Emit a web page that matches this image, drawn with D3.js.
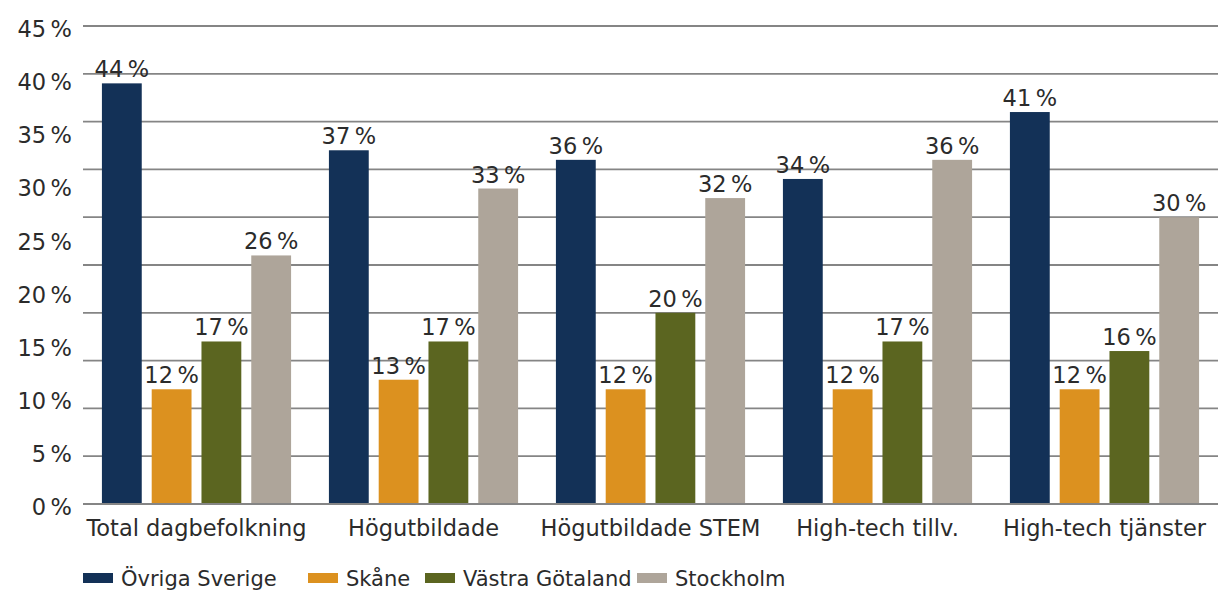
<!DOCTYPE html>
<html><head><meta charset="utf-8">
<script src="https://cdn.jsdelivr.net/npm/d3@7"></script>
<style>body{margin:0;background:#fff}svg{display:block}text{font-family:"DejaVu Sans",Verdana,sans-serif;fill:#2b2b2b}</style>
</head><body>
<script>
const categories = ["Total dagbefolkning","Högutbildade","Högutbildade STEM","High-tech tillv.","High-tech tjänster"];
const seriesNames = ["Övriga Sverige","Skåne","Västra Götaland","Stockholm"];
const colors = ["#133157","#dc911f","#5b6520","#aea59a"];
const ovriga = [44,37,36,34,41];
const skane = [12,13,12,12,12];
const vastra = [17,17,20,17,16];
const stockholm = [26,33,32,36,30];
const tickLabels = [0,5,10,15,20,25,30,35,40,45];
const gridValues = [0,5,10,15,20,25,30,35,40,45,50];

const values = [ovriga, skane, vastra, stockholm];
const W = 1219, H = 590;
const FS = 22.5;
const svg = d3.select("body").append("svg").attr("width",W).attr("height",H);

const x0 = d3.scaleBand().domain(categories).range([83,1218]).padding(0);
const x1 = d3.scaleBand().domain(seriesNames).range([0,x0.bandwidth()]).paddingInner(0.2).paddingOuter(0.38);
const y = d3.scaleLinear().domain([0,50]).range([504,26]);
const yLab = d3.scaleLinear().domain([0,45]).range([507,29]);

// gridlines
svg.append("g").selectAll("line").data(gridValues).join("line")
  .attr("x1",83).attr("x2",1218)
  .attr("y1",d=>y(d)).attr("y2",d=>y(d))
  .attr("stroke","#858585").attr("stroke-width",1.8);

// y tick labels
svg.append("g").selectAll("text").data(tickLabels).join("text")
  .attr("x",72).attr("y",d=>yLab(d)).attr("dy","0.36em")
  .attr("text-anchor","end").attr("font-size",FS)
  .text(d=>d+"\u2009%");

// bars
const groups = svg.append("g").selectAll("g").data(categories).join("g")
  .attr("transform",d=>`translate(${x0(d)},0)`);
groups.each(function(cat,ci){
  const g = d3.select(this);
  const rows = seriesNames.map((s,si)=>({s,si,v:values[si][ci]}));
  g.selectAll("rect").data(rows).join("rect")
    .attr("x",d=>x1(d.s)).attr("width",x1.bandwidth())
    .attr("y",d=>y(d.v)).attr("height",d=>y(0)-y(d.v))
    .attr("fill",d=>colors[d.si]);
  g.selectAll("text").data(rows).join("text")
    .attr("x",d=>x1(d.s)+x1.bandwidth()/2).attr("y",d=>y(d.v)-6)
    .attr("text-anchor","middle").attr("font-size",FS)
    .text(d=>d.v+"\u2009%");
});

// baseline axis line
svg.append("line").attr("x1",83).attr("x2",1218).attr("y1",y(0)).attr("y2",y(0))
  .attr("stroke","#858585").attr("stroke-width",1.8);

// category labels
svg.append("g").selectAll("text").data(categories).join("text")
  .attr("x",d=>x0(d)+x0.bandwidth()/2).attr("y",536)
  .attr("text-anchor","middle").attr("font-size",FS).text(d=>d);

// legend
const legendX = [83,308,425,637];
const lg = svg.append("g").selectAll("g").data(seriesNames).join("g")
  .attr("transform",(d,i)=>`translate(${legendX[i]},0)`);
lg.append("rect").attr("x",0).attr("y",573).attr("width",30).attr("height",10).attr("fill",(d,i)=>colors[i]);
lg.append("text").attr("x",38).attr("y",586).attr("font-size",21).text(d=>d);
</script>
</body></html>
